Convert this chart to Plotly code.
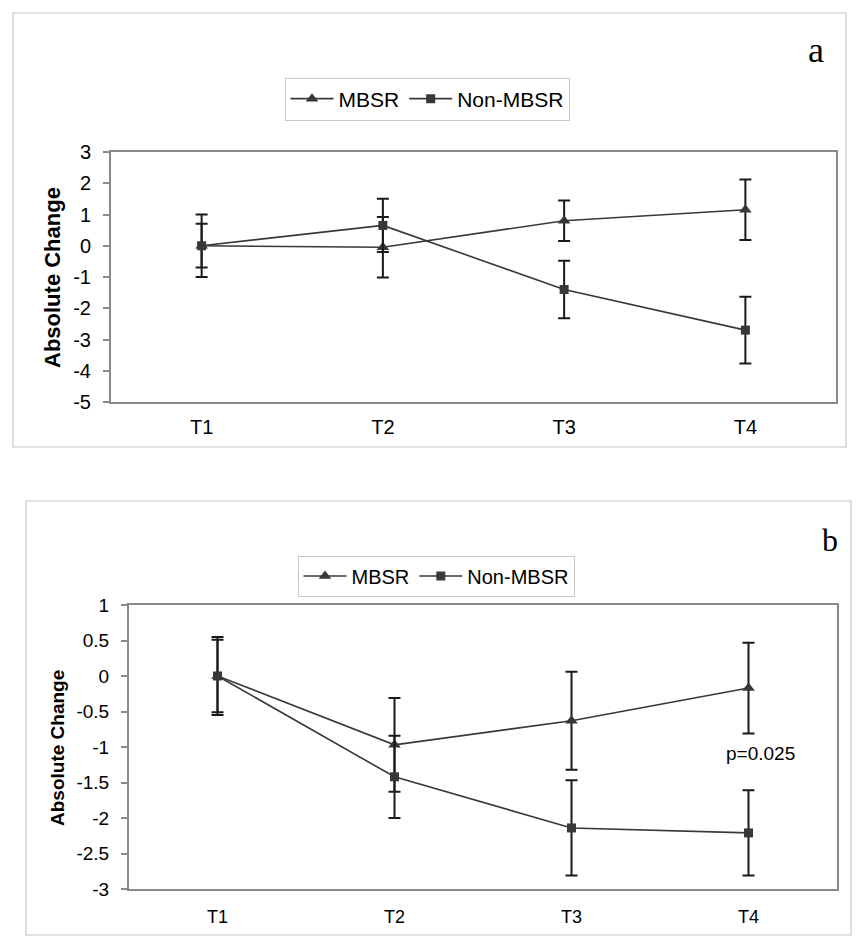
import plotly.graph_objects as go

W, H = 865, 946

categories = ["T1", "T2", "T3", "T4"]
series_names = ["MBSR", "Non-MBSR"]

# Panel a
a_mbsr = [0.0, -0.05, 0.80, 1.15]
a_mbsr_err = [1.00, 0.97, 0.65, 0.97]
a_non = [0.0, 0.65, -1.40, -2.70]
a_non_err = [0.70, 0.85, 0.92, 1.07]
a_ticks = [3, 2, 1, 0, -1, -2, -3, -4, -5]
a_ticktext = ["3", "2", "1", "0", "-1", "-2", "-3", "-4", "-5"]

# Panel b
b_mbsr = [0.0, -0.97, -0.63, -0.17]
b_mbsr_err = [0.55, 0.66, 0.69, 0.64]
b_non = [0.0, -1.42, -2.14, -2.21]
b_non_err = [0.51, 0.58, 0.67, 0.60]
b_ticks = [1, 0.5, 0, -0.5, -1, -1.5, -2, -2.5, -3]
b_ticktext = ["1", "0.5", "0", "-0.5", "-1", "-1.5", "-2", "-2.5", "-3"]

p_text = "p=0.025"

FONT = "Arial, 'Liberation Sans', sans-serif"
SERIF = "'Liberation Serif', 'Times New Roman', serif"
LINE_C = "#383838"
ERR_C = "#1a1a1a"
FRAME_C = "#8a8a8a"


def px(x):
    return x / W


def py(y):
    return 1 - y / H


fig = go.Figure()


def add_series(x_ax, y_ax, ys, errs, name, symbol, legend):
    fig.add_trace(go.Scatter(
        x=categories, y=ys, name=name, mode="lines+markers",
        xaxis=x_ax, yaxis=y_ax, legend=legend,
        line=dict(color=LINE_C, width=1.6),
        marker=dict(symbol=symbol, size=11 if symbol == "triangle-up" else 9,
                    color=LINE_C),
        error_y=dict(type="data", array=errs, visible=True, color=ERR_C,
                     thickness=2, width=6),
    ))


add_series("x", "y", a_mbsr, a_mbsr_err, series_names[0], "triangle-up", "legend")
add_series("x", "y", a_non, a_non_err, series_names[1], "square", "legend")
add_series("x2", "y2", b_mbsr, b_mbsr_err, series_names[0], "triangle-up", "legend2")
add_series("x2", "y2", b_non, b_non_err, series_names[1], "square", "legend2")

common_x = dict(type="category", range=[-0.5, 3.5], showgrid=False, zeroline=False,
                showline=True, mirror=True, linecolor=FRAME_C, linewidth=2,
                ticks="", color="black", automargin=False)
common_y = dict(showgrid=False, zeroline=False, showline=True, mirror=True,
                linecolor=FRAME_C, linewidth=2, ticks="outside", ticklen=6,
                tickcolor=FRAME_C, tickwidth=1.5, color="black", automargin=False)

fig.update_layout(
    width=W, height=H,
    margin=dict(l=0, r=0, t=0, b=0, pad=0, autoexpand=False),
    paper_bgcolor="white", plot_bgcolor="white",
    font=dict(family=FONT, color="black"),
    showlegend=True,
    xaxis=dict(common_x, domain=[px(111), px(836)], anchor="y",
               tickfont=dict(size=20), ticklabelstandoff=6),
    yaxis=dict(common_y, domain=[py(402), py(152)], anchor="x",
               range=[-5, 3], tickvals=a_ticks, ticktext=a_ticktext,
               tickfont=dict(size=20), ticklabelstandoff=8),
    xaxis2=dict(common_x, domain=[px(129), px(837)], anchor="y2",
                tickfont=dict(size=18), ticklabelstandoff=10),
    yaxis2=dict(common_y, domain=[py(889), py(605)], anchor="x2",
                range=[-3, 1], tickvals=b_ticks, ticktext=b_ticktext,
                tickfont=dict(size=19), ticklabelstandoff=8),
    legend=dict(orientation="h", x=px(427), y=py(99), xanchor="center",
                yanchor="middle", bordercolor="#c8c8c8", borderwidth=1,
                font=dict(size=21), traceorder="normal", itemwidth=43),
    legend2=dict(orientation="h", x=px(436), y=py(576), xanchor="center",
                 yanchor="middle", bordercolor="#c8c8c8", borderwidth=1,
                 font=dict(size=20), traceorder="normal", itemwidth=43),
    shapes=[
        dict(type="rect", xref="paper", yref="paper", x0=px(13), x1=px(846),
             y0=py(447), y1=py(13), line=dict(color="#c8c8c8", width=1.2),
             layer="below"),
        dict(type="rect", xref="paper", yref="paper", x0=px(26), x1=px(851),
             y0=py(935), y1=py(501), line=dict(color="#c8c8c8", width=1.2),
             layer="below"),
    ],
    annotations=[
        dict(text="<b>Absolute Change</b>", xref="paper", yref="paper",
             x=px(52), y=py(278), xanchor="center", yanchor="middle",
             textangle=-90, showarrow=False, font=dict(size=22, family=FONT)),
        dict(text="<b>Absolute Change</b>", xref="paper", yref="paper",
             x=px(57), y=py(748), xanchor="center", yanchor="middle",
             textangle=-90, showarrow=False, font=dict(size=19, family=FONT)),
        dict(text="a", xref="paper", yref="paper", x=px(816), y=py(50),
             xanchor="center", yanchor="middle", showarrow=False,
             font=dict(size=36, family=SERIF)),
        dict(text="b", xref="paper", yref="paper", x=px(830), y=py(540),
             xanchor="center", yanchor="middle", showarrow=False,
             font=dict(size=32, family=SERIF)),
        dict(text=p_text, xref="x2", yref="paper", x="T4", xshift=12,
             y=py(753), xanchor="center", yanchor="middle", showarrow=False,
             font=dict(size=19, family=FONT)),
    ],
)

fig.write_html(
    "out.html",
    config={"displayModeBar": False},
    post_script="document.body.style.margin='0px';document.body.style.overflow='hidden';",
)
